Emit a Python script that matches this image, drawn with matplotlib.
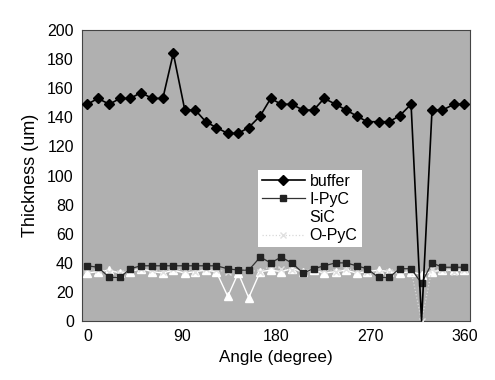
import matplotlib
matplotlib.use('Agg')
import matplotlib.pyplot as plt

plt.rcParams['font.family'] = ['Liberation Sans', 'DejaVu Sans']

# measured angles (deg)
angle = [0, 10, 21, 31, 41, 51, 62, 72, 82, 93, 103, 113, 123, 134, 144, 154, 165, 175,
         185, 195, 206, 216, 226, 237, 247, 257, 267, 278, 288, 298, 309, 319, 329, 339, 350, 360]

buffer = [149, 153, 149, 153, 153, 157, 153, 153, 184, 145, 145, 137, 133, 129, 129, 133, 141, 153,
          149, 149, 145, 145, 153, 149, 145, 141, 137, 137, 137, 141, 149, 0, 145, 145, 149, 149]
ipyc = [38, 37, 30, 30, 36, 38, 38, 38, 38, 38, 38, 38, 38, 36, 35, 35, 44, 40,
        44, 40, 33, 36, 38, 40, 40, 38, 36, 30, 30, 36, 36, 26, 40, 37, 37, 37]
sic = [33, 34, 35, 33, 34, 36, 34, 33, 35, 33, 34, 35, 34, 17, 33, 16, 34, 35,
       34, 36, 34, 35, 33, 34, 35, 33, 34, 35, 34, 33, 34, 32, 34, 35, 35, 35]
opyc = [36, 35, 34, 33, 35, 36, 35, 34, 36, 35, 34, 36, 35, 34, 36, 35, 34, 38,
        36, 35, 34, 36, 35, 34, 36, 35, 34, 33, 34, 35, 35, 0, 36, 35, 34, 35]

fig = plt.figure(figsize=(4.95, 3.8), dpi=100)
ax = fig.add_axes([0.166, 0.155, 0.784, 0.766])
ax.set_facecolor('#b0b0b0')

ax.plot(angle, buffer, color='black', lw=1.2, marker='D', ms=5.5,
        markevery=[i for i in range(len(angle)) if i != 31], label='buffer',
        clip_on=False, zorder=5)
ax.plot(angle, ipyc, color='#333333', lw=0.9, marker='s', ms=4.5,
        mfc='#222222', mec='#222222', label='I-PyC', zorder=4)
ax.plot(angle, sic, color='white', lw=1.0, marker='^', ms=6,
        mfc='white', mec='white', label='SiC', zorder=3)
ax.plot(angle, opyc, color='#d8d8d8', lw=0.9, ls=':', marker='x', ms=5,
        mec='#e0e0e0', label='O-PyC', zorder=3)

ax.set_xlim(-5, 365.5)
ax.set_ylim(0, 200)
ax.set_xticks([0, 90, 180, 270, 360])
ax.set_yticks(range(0, 201, 20))
ax.tick_params(length=0, labelsize=11.5, pad=6)
for s in ax.spines.values():
    s.set_color('#444444')
    s.set_linewidth(0.8)

ax.set_xlabel('Angle (degree)', fontsize=12.3, labelpad=4)
ax.set_ylabel('Thickness (um)', fontsize=13, labelpad=6)

leg = ax.legend(loc='upper left', bbox_to_anchor=(0.432, 0.548), fontsize=11.5,
                frameon=True, fancybox=False, framealpha=1, edgecolor='white',
                handlelength=2.7, handletextpad=0.3, borderpad=0.25, labelspacing=0.2)
leg.get_frame().set_linewidth(0)

fig.savefig('out.png', dpi=100)
